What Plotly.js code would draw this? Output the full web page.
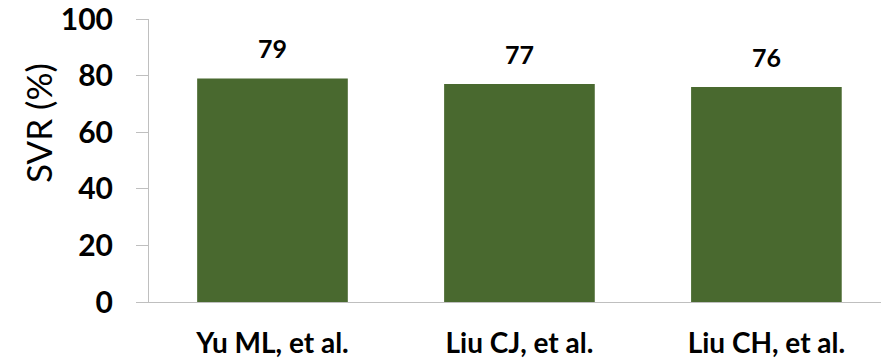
<!DOCTYPE html>
<html>
<head>
<meta charset="utf-8">
<script src="https://cdn.plot.ly/plotly-3.0.1.min.js"></script>
<style>
  html, body { margin: 0; padding: 0; background: #ffffff; }
  #chart { width: 881px; height: 361px; }
</style>
</head>
<body>
<div id="chart"></div>
<script>
// Sustained virological response by study
const studies = ["Yu ML, et al.", "Liu CJ, et al.", "Liu CH, et al."];
const svrPercent = [79, 77, 76];
const yTicks = [0, 20, 40, 60, 80, 100];

const FONT = "Lato, 'Open Sans', sans-serif";
const AXIS_GREY = "#BFBFBF";

const xIdx = studies.map((_, i) => i);

const trace = {
  type: "bar",
  x: xIdx,
  y: svrPercent,
  width: 0.61,
  marker: { color: "#49692F", line: { width: 0 } },
  hoverinfo: "skip",
  showlegend: false
};

// value labels above each bar
const valueLabels = svrPercent.map((v, i) => ({
  x: i, y: v, xref: "x", yref: "y",
  text: String(v), showarrow: false,
  yanchor: "middle", yshift: 30,
  font: { family: FONT, size: 25, color: "#000000", weight: "bold" }
}));

// rotated y-axis title, placed above the axis midpoint
const yTitle = {
  xref: "paper", yref: "paper",
  x: (38 - 149) / 732, y: (302 - 123) / 283,
  xanchor: "center", yanchor: "middle",
  text: "SVR (%)", textangle: -90, showarrow: false,
  font: { family: FONT, size: 35, color: "#000000" }
};

const layout = {
  width: 881,
  height: 361,
  margin: { l: 149, r: 0, t: 19, b: 59, pad: 0 },
  paper_bgcolor: "#ffffff",
  plot_bgcolor: "#ffffff",
  showlegend: false,
  xaxis: {
    range: [-0.5, 2.464],
    tickmode: "array",
    tickvals: xIdx,
    ticktext: studies,
    ticks: "",
    ticklabelstandoff: 16,
    ticklabeloverflow: "allow",
    showgrid: false,
    zeroline: false,
    showline: true,
    linecolor: AXIS_GREY,
    linewidth: 1,
    tickfont: { family: FONT, size: 28, color: "#000000", weight: "bold" },
    fixedrange: true
  },
  yaxis: {
    range: [0, 100],
    tickmode: "array",
    tickvals: yTicks,
    ticktext: yTicks.map(String),
    ticks: "outside",
    ticklen: 12,
    tickcolor: AXIS_GREY,
    tickwidth: 1,
    ticklabelstandoff: 17,
    ticklabeloverflow: "allow",
    showgrid: false,
    zeroline: false,
    showline: true,
    linecolor: AXIS_GREY,
    linewidth: 1,
    tickfont: { family: FONT, size: 30, color: "#000000", weight: "bold" },
    fixedrange: true
  },
  annotations: valueLabels.concat([yTitle])
};

Plotly.newPlot("chart", [trace], layout, { staticPlot: true, displayModeBar: false });
</script>
</body>
</html>
